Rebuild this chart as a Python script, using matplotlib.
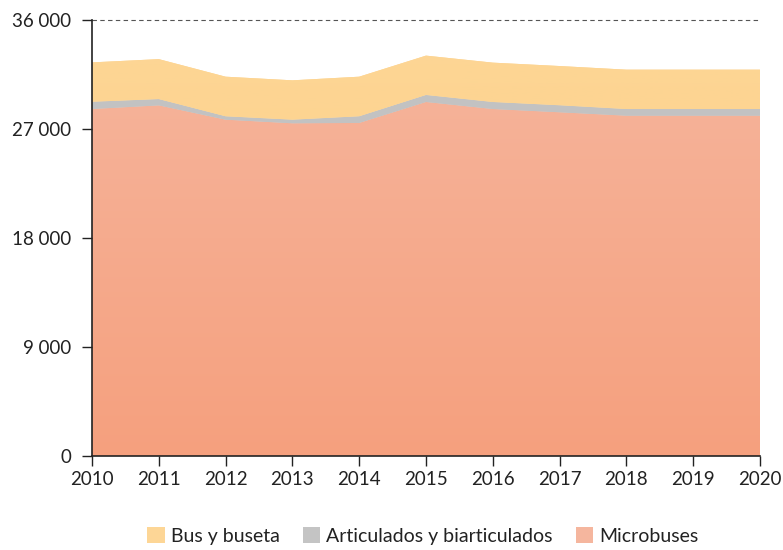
import matplotlib
matplotlib.use("Agg")
import matplotlib.pyplot as plt
import numpy as np
from matplotlib.patches import Patch
from matplotlib.colors import LinearSegmentedColormap

plt.rcParams['font.family'] = ['Lato', 'DejaVu Sans']

years = [2010, 2011, 2012, 2013, 2014, 2015, 2016, 2017, 2018, 2019, 2020]
microbuses = [28650, 28950, 27770, 27470, 27500, 29230, 28650, 28380, 28100, 28100, 28100]
articulados = [600, 520, 280, 300, 550, 580, 580, 580, 550, 550, 550]
bus_buseta = [3250, 3300, 3270, 3250, 3270, 3250, 3250, 3240, 3250, 3250, 3250]

labels = ["Bus y buseta", "Articulados y biarticulados", "Microbuses"]
# (bottom colour, top colour) for each layer
grad_micro = ("#f6a07e", "#f5b69e")
grad_art = ("#bcbcbc", "#c4c4c4")
grad_bus = ("#fdcf82", "#fdd696")

fig = plt.figure(figsize=(7.83, 5.5), dpi=100)
ax = fig.add_axes([0.1175, 0.1709, 0.8531, 0.7927])

polys = ax.stackplot(years, microbuses, articulados, bus_buseta,
                     colors=[grad_micro[1], grad_art[1], grad_bus[1]], linewidth=0)

ymax = 36000
xlim = (years[0], years[-1])
for poly, (c0, c1) in zip(polys, [grad_micro, grad_art, grad_bus]):
    cmap = LinearSegmentedColormap.from_list("g", [c0, c1])
    grad = np.linspace(0, 1, 256).reshape(-1, 1)
    im = ax.imshow(grad, cmap=cmap, aspect="auto", origin="lower",
                   extent=[xlim[0], xlim[1], 0, ymax], zorder=poly.get_zorder())
    im.set_clip_path(poly.get_paths()[0], transform=ax.transData)

ax.set_xlim(*xlim)
ax.set_ylim(0, ymax)
ax.axhline(ymax, color="#555555", linestyle=(0, (4, 3)), linewidth=0.8, clip_on=False)

ax.set_xticks(years)
ax.set_yticks([0, 9000, 18000, 27000, 36000])
ax.set_yticklabels(["0", "9 000", "18 000", "27 000", "36 000"])
ax.tick_params(axis="both", labelsize=13.5, length=7, width=1, color="#222222",
               labelcolor="#222222")
ax.tick_params(axis="y", pad=8)
ax.tick_params(axis="x", pad=4)

for s in ["top", "right"]:
    ax.spines[s].set_visible(False)
for s in ["left", "bottom"]:
    ax.spines[s].set_color("#222222")
    ax.spines[s].set_linewidth(1.2)

handles = [Patch(facecolor=grad_bus[1], edgecolor="none"),
           Patch(facecolor=grad_art[1], edgecolor="none"),
           Patch(facecolor=grad_micro[1], edgecolor="none")]
fig.legend(handles, labels, loc="lower center", bbox_to_anchor=(0.54, -0.022), ncol=3,
           frameon=False, fontsize=14, handlelength=0.9, handleheight=0.9,
           handletextpad=0.3, columnspacing=1.2, labelcolor="#222222")

fig.savefig("out.png", dpi=100)
